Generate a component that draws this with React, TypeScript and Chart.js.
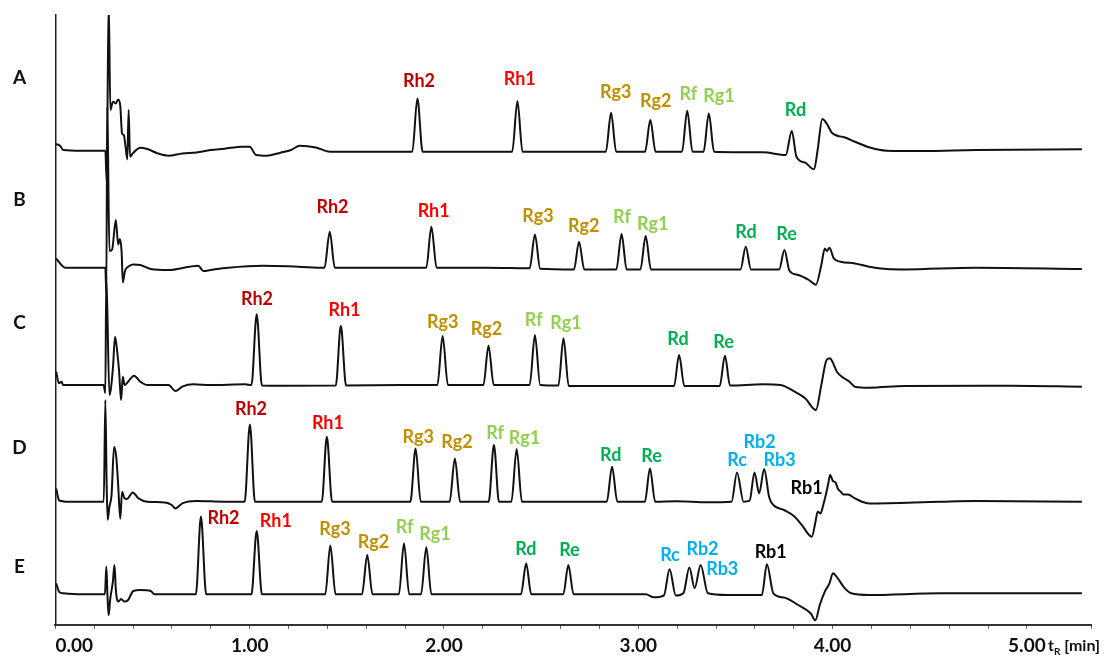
import { useEffect, useRef } from "react";
import { Chart, registerables } from "chart.js";

Chart.register(...registerables);

type Point = [number, number];
type PeakTag = [string, number];

// Retention-time axis (min)
const TIME_MIN = 0;
const TIME_MAX = 5.33;
const TIME_STEP = 0.2;
const timeTickLabels = ["0.00", "1.00", "2.00", "3.00", "4.00", "5.00"];

const sampleNames = ["A", "B", "C", "D", "E"];

// Chromatograms: [retention time (min), detector signal (relative units, baseline = 0)]
const traceA: Point[] = [
  [0.004, 6.7], [0.025, 4.7], [0.04, 0.7], [0.133, 0], [0.257, 0],
  [0.264, -30], [0.274, 150], [0.283, 40.7], [0.296, 49], [0.311, 47.3], [0.323, 51.3], [0.334, 44.7],
  [0.343, 17.3], [0.352, 15.7], [0.361, 4], [0.37, -8.7], [0.377, 40.7], [0.384, -6], [0.398, -2.7],
  [0.437, 3], [0.473, 1.7], [0.527, -2.7], [0.582, -5], [0.653, -2.7], [0.726, -1.7], [0.798, 0.7],
  [0.87, 2], [0.961, 4], [1.0, 4], [1.033, -4.3], [1.087, -5], [1.159, -2], [1.213, 0.7], [1.258, 5],
  [1.34, 3.3], [1.412, -1], [1.52, -1], [1.7, -1],
  [1.837, -1], [1.863, 52.3], [1.89, -1], [2.131, -1],
  [2.351, -1], [2.378, 49.7], [2.404, -1], [2.663, -1],
  [2.833, -1], [2.86, 38], [2.886, -1],
  [3.035, -1], [3.062, 30.7], [3.089, -1],
  [3.225, -1], [3.252, 40], [3.279, -1],
  [3.336, -1], [3.363, 37.3], [3.39, -1],
  [3.641, -1.6], [3.759, -4.3], [3.79, 19.7], [3.814, -6], [3.859, -12], [3.905, -18.6], [3.923, 0.7],
  [3.947, 31.7], [3.969, 27.4], [3.996, 18], [4.024, 15], [4.06, 13.4], [4.115, 9], [4.188, 3.4],
  [4.279, 0], [4.462, -0.3], [4.736, 0.7], [5.283, 1.4],
];

const traceB: Point[] = [
  [0.004, 9.3], [0.031, 2.7], [0.049, 0], [0.133, 0], [0.257, 0],
  [0.262, -25], [0.267, 161], [0.278, 16.7], [0.292, 18.3], [0.311, 47.7], [0.323, 23.3], [0.332, 28.7],
  [0.341, 15.3], [0.347, -14.7], [0.358, -3.3], [0.374, 1], [0.401, 3.3], [0.437, 2.7], [0.491, -1.3],
  [0.582, -2.3], [0.69, 1], [0.735, 2], [0.762, -3.3], [0.798, -2.3], [0.889, 0], [1.069, 2], [1.249, 1],
  [1.385, 0], [1.412, 36], [1.438, 0], [1.687, 0],
  [1.909, 0], [1.935, 41], [1.962, 0], [2.22, 0],
  [2.441, -0.5], [2.468, 33.3], [2.495, -1],
  [2.669, -1.7], [2.695, 26], [2.722, -1.7],
  [2.887, -1.7], [2.914, 33.7], [2.94, -1.7],
  [3.011, -1.7], [3.038, 31.7], [3.065, -1.7], [3.285, -1.7],
  [3.526, -1.7], [3.553, 21], [3.58, -1.7],
  [3.725, -1.7], [3.752, 17.7], [3.778, -3], [3.823, -7.3], [3.878, -12.3], [3.914, -17],
  [3.942, 2.7], [3.96, 19.3], [3.971, 16.7], [3.984, 20], [4.006, 9.3], [4.042, 6], [4.115, 4.3],
  [4.188, 1], [4.279, -1.3], [4.371, -1.7], [4.736, 0], [5.283, -1.3],
];

const traceC: Point[] = [
  [0.004, 13.3], [0.018, 1.7], [0.031, 3.3], [0.04, 0], [0.133, 0], [0.248, 0],
  [0.257, -8], [0.262, 110], [0.278, -10], [0.296, 16.7], [0.307, 48.3], [0.32, 30], [0.328, 13.3],
  [0.338, -15], [0.347, 8.3], [0.356, 0], [0.374, 3.3], [0.405, 9.3], [0.437, 3.3], [0.473, 0],
  [0.582, 0], [0.618, -6], [0.653, -1.7], [0.708, 0.7], [0.798, 0], [0.978, 0.7],
  [1.009, 0], [1.036, 70.7], [1.063, -0.5], [1.159, -0.7],
  [1.443, -0.5], [1.469, 59.3], [1.496, -0.5], [1.776, 0],
  [1.966, 0], [1.993, 49], [2.02, 0],
  [2.203, 0], [2.229, 39.3], [2.256, 0],
  [2.441, 0], [2.468, 50], [2.495, 0],
  [2.589, -0.5], [2.615, 46.7], [2.642, -1], [2.93, -1],
  [3.184, -1], [3.21, 30], [3.237, -1],
  [3.419, -1], [3.446, 29.3], [3.472, -0.5],
  [3.641, 0.7], [3.732, 0], [3.805, -6.7], [3.859, -13.3], [3.914, -25], [3.942, 0], [3.969, 25],
  [3.987, 26.7], [3.999, 23.3], [4.024, 12.7], [4.06, 6.7], [4.087, 3.3], [4.115, -1.7], [4.188, -2.7],
  [4.371, -1], [4.918, -0.7], [5.283, -1.7],
];

const traceD: Point[] = [
  [0.004, 13.3], [0.018, 1.7], [0.031, 0.7], [0.049, 0], [0.133, 0], [0.249, 0],
  [0.257, 101.7], [0.264, 15], [0.269, -18], [0.278, -5], [0.289, 6.7], [0.302, 55], [0.314, 43.3],
  [0.323, 16.7], [0.334, -17], [0.343, 10], [0.356, 3.3], [0.368, 2.7], [0.398, 9.3], [0.428, 3.3],
  [0.473, 0], [0.564, -0.7], [0.599, -3.3], [0.618, -6.7], [0.653, -1.7], [0.726, 0.7], [0.87, 0],
  [0.974, 0], [1.001, 77.3], [1.027, 0], [1.199, 0],
  [1.371, 0], [1.397, 65], [1.424, 0],
  [1.827, 0], [1.854, 53.3], [1.88, 0],
  [2.029, 0], [2.056, 43.3], [2.083, 0],
  [2.23, 0], [2.257, 56.7], [2.283, 0],
  [2.347, 0], [2.374, 52.7], [2.401, 0], [2.663, 0],
  [2.838, 0], [2.865, 35], [2.892, 0],
  [3.034, 0], [3.06, 33.3], [3.087, 0], [3.196, 0.5], [3.356, -0.5],
  [3.48, 0], [3.508, 29.3], [3.542, 0], [3.573, 1], [3.598, 29.3], [3.622, 8.3], [3.648, 32.7],
  [3.673, 5], [3.695, -3.3], [3.75, -8.3], [3.805, -15], [3.844, -24], [3.893, -35], [3.912, -20],
  [3.923, -10], [3.938, -11.7], [3.951, -4], [3.965, 6.7], [3.978, 18.3], [3.987, 26.7], [4.002, 20.7],
  [4.015, 19.3], [4.028, 12.7], [4.042, 10], [4.056, 7.3], [4.079, 7.3], [4.115, 3.3], [4.151, 0],
  [4.188, -1.7], [4.553, 0], [4.736, 0.7], [5.283, 0],
];

const traceE: Point[] = [
  [0.004, 10], [0.021, 1], [0.04, 0], [0.133, -1], [0.255, -1],
  [0.262, 26.7], [0.268, -2], [0.274, -22], [0.282, -6], [0.296, 12], [0.304, 28.3], [0.311, 4],
  [0.316, -5], [0.325, -8.3], [0.338, -5.7], [0.356, -8.3], [0.374, -6.7], [0.401, 2.3], [0.437, 3.3],
  [0.491, 2.3], [0.509, -1], [0.621, -1],
  [0.723, -1], [0.749, 76.7], [0.776, -1], [0.888, -1],
  [1.009, -1], [1.036, 62.3], [1.063, -1], [1.243, -1],
  [1.389, -1], [1.415, 47.7], [1.442, -1],
  [1.578, -1], [1.605, 38.3], [1.632, -1],
  [1.768, -1], [1.794, 50], [1.821, -1],
  [1.882, -1], [1.909, 46], [1.935, -1], [2.22, -1],
  [2.396, -1], [2.423, 29.7], [2.449, -1],
  [2.614, -1], [2.64, 28.3], [2.667, -1], [3.038, -1], [3.081, -4],
  [3.132, -2], [3.161, 24], [3.193, -2.3], [3.232, 0], [3.263, 25.7], [3.29, 5], [3.321, 28.3],
  [3.358, 0], [3.458, -1.7], [3.604, -1.7],
  [3.636, -1.7], [3.662, 29], [3.695, 0], [3.75, -4.3], [3.823, -11.7], [3.887, -20], [3.911, -27],
  [3.934, -11.7], [3.96, 1.7], [3.984, 10], [4.002, 20], [4.024, 15.7], [4.06, 5.7], [4.096, 0],
  [4.188, -1.7], [4.553, 0], [5.283, 0],
];

// Peak assignments: [compound, retention time (min)]
const peaksA: PeakTag[] = [
  ["Rh2", 1.863], ["Rh1", 2.378], ["Rg3", 2.86], ["Rg2", 3.062], ["Rf", 3.252], ["Rg1", 3.363], ["Rd", 3.79],
];
const peaksB: PeakTag[] = [
  ["Rh2", 1.412], ["Rh1", 1.935], ["Rg3", 2.468], ["Rg2", 2.695], ["Rf", 2.914], ["Rg1", 3.038], ["Rd", 3.553], ["Re", 3.752],
];
const peaksC: PeakTag[] = [
  ["Rh2", 1.036], ["Rh1", 1.469], ["Rg3", 1.993], ["Rg2", 2.229], ["Rf", 2.468], ["Rg1", 2.615], ["Rd", 3.21], ["Re", 3.446],
];
const peaksD: PeakTag[] = [
  ["Rh2", 1.001], ["Rh1", 1.397], ["Rg3", 1.854], ["Rg2", 2.056], ["Rf", 2.257], ["Rg1", 2.374],
  ["Rd", 2.865], ["Re", 3.06], ["Rc", 3.508], ["Rb2", 3.598], ["Rb3", 3.648], ["Rb1", 3.938],
];
const peaksE: PeakTag[] = [
  ["Rh2", 0.749], ["Rh1", 1.036], ["Rg3", 1.415], ["Rg2", 1.605], ["Rf", 1.794], ["Rg1", 1.909],
  ["Rd", 2.423], ["Re", 2.64], ["Rc", 3.161], ["Rb2", 3.263], ["Rb3", 3.321], ["Rb1", 3.662],
];

const compoundColors: Record<string, string> = {
  Rh2: "#C00000", Rh1: "#FF0000",
  Rg3: "#BF9000", Rg2: "#BF9000",
  Rf: "#92D050", Rg1: "#92D050",
  Rd: "#00B050", Re: "#00B050",
  Rc: "#00B0F0", Rb2: "#00B0F0", Rb3: "#00B0F0",
  Rb1: "#000000",
};

// ---- layout ----
// vertical stacking of the chromatograms on the shared signal axis
const STACK_OFFSETS = [474, 357, 239.7, 123, 31.4];
const SIGNAL_MAX = 609.7;
// levels of the sample letters on the signal axis
const LETTER_LEVELS = [546.4, 424.7, 301.7, 176.7, 57.7];
// label placement relative to the peak apex in px: [dx, rise]
const shiftsA: Point[] = [[1.6, 17.3], [2.3, 22], [4.6, 20.2], [5.3, 19], [1.1, 17], [10.1, 17.5], [3.7, 20.7]];
const shiftsB: Point[] = [[2.7, 24.2], [2.3, 15.4], [3, 18], [4.6, 15.9], [0.4, 16.5], [7.1, 12], [0.3, 14.7], [2.1, 16.2]];
const shiftsC: Point[] = [[0.3, 15.3], [3.7, 15.7], [0.2, 13.5], [-1.9, 16.5], [-1.2, 15], [2.5, 15], [-1.1, 16.3], [-1.4, 13.7]];
const shiftsD: Point[] = [
  [1.1, 15.1], [1.1, 13.4], [2.7, 10.8], [2.1, 16.6], [1.1, 11.7], [7.7, 10.7],
  [-1.3, 11.7], [1.6, 12.6], [0, 12.3], [5.2, 29.8], [15.4, 9], [-13.9, 25.1],
];
const shiftsE: Point[] = [
  [22.6, -1.6], [19.2, 9.7], [4.7, 16.5], [6.3, 13.2], [0.7, 15.8], [8.7, 13.1],
  [-0.3, 14], [1.1, 15.3], [0.4, 14.6], [13.1, 18.5], [21.6, -4.2], [3.8, 12],
];

const FONT = "Lato, 'Open Sans', sans-serif";
const TICK_LEN = 4;
const TICK_PAD = 6;
const TICK_FONT = 19;

export default function App() {
  const canvasRef = useRef<HTMLCanvasElement>(null);

  useEffect(() => {
    const canvas = canvasRef.current;
    if (!canvas) return;
    const traces = [traceA, traceB, traceC, traceD, traceE];
    const peaks = [peaksA, peaksB, peaksC, peaksD, peaksE];
    const shifts = [shiftsA, shiftsB, shiftsC, shiftsD, shiftsE];

    const datasets = traces.map((trace, i) => ({
      label: sampleNames[i],
      data: trace.map(([t, s]) => ({ x: t, y: s + STACK_OFFSETS[i] })),
      borderColor: "#111111",
      borderWidth: 2,
      pointRadius: 0,
      fill: false,
      cubicInterpolationMode: "monotone",
    }));

    const annotations = {
      id: "chromAnnotations",
      afterDatasetsDraw(chart: any) {
        const ctx = chart.ctx as CanvasRenderingContext2D;
        const xs = chart.scales.x;
        const ys = chart.scales.y;
        ctx.save();
        ctx.textAlign = "center";
        ctx.textBaseline = "middle";

        // compound names over their peaks
        ctx.font = `bold 18px ${FONT}`;
        peaks.forEach((list, i) => {
          const trace = traces[i];
          list.forEach(([name, t], j) => {
            let apex = trace[0];
            for (const p of trace) if (Math.abs(p[0] - t) < Math.abs(apex[0] - t)) apex = p;
            const px = xs.getPixelForValue(apex[0]);
            const py = ys.getPixelForValue(apex[1] + STACK_OFFSETS[i]);
            const [dx, rise] = shifts[i][j];
            ctx.fillStyle = compoundColors[name];
            ctx.fillText(name, px + dx, py - rise);
          });
        });

        // sample letters
        ctx.font = `bold 19px ${FONT}`;
        ctx.fillStyle = "#111";
        sampleNames.forEach((n, i) => ctx.fillText(n, 19.5, ys.getPixelForValue(LETTER_LEVELS[i])));

        // axis title t_R [min], right end of the time axis
        const cy = xs.top + TICK_LEN + TICK_PAD + (TICK_FONT * 1.2) / 2;
        const big = `bold 16px ${FONT}`;
        const small = `bold 10px ${FONT}`;
        ctx.textAlign = "left";
        ctx.font = big;
        const wT = ctx.measureText("t").width;
        const wM = ctx.measureText(" [min]").width;
        ctx.font = small;
        const wR = ctx.measureText("R").width;
        let x = 1100 - (wT + wR + wM);
        ctx.font = big;
        ctx.fillText("t", x, cy);
        x += wT;
        ctx.font = small;
        ctx.fillText("R", x, cy + 6);
        x += wR;
        ctx.font = big;
        ctx.fillText(" [min]", x, cy);
        ctx.restore();
      },
    };

    const chart = new Chart(canvas, {
      type: "line",
      data: { datasets } as any,
      options: {
        animation: false,
        responsive: false,
        events: [],
        layout: { padding: { left: 55.4, top: 15, right: 15, bottom: 0 } },
        plugins: { legend: { display: false }, tooltip: { enabled: false } },
        scales: {
          x: {
            type: "linear",
            min: TIME_MIN,
            max: TIME_MAX,
            border: { display: true, color: "#333", width: 2 },
            grid: { display: true, drawOnChartArea: false, drawTicks: true, tickLength: TICK_LEN, tickColor: "#555", tickWidth: 1 },
            ticks: {
              stepSize: TIME_STEP,
              autoSkip: false,
              maxRotation: 0,
              minRotation: 0,
              align: "inner",
              padding: TICK_PAD,
              color: "#111",
              font: { family: FONT, weight: "bold", size: TICK_FONT },
              callback: (v: any) => {
                const n = Math.round(Number(v));
                return Math.abs(Number(v) - n) < 1e-6 && n < timeTickLabels.length ? timeTickLabels[n] : "";
              },
            },
            afterFit: (s: any) => { s.height = 32.3; },
          },
          y: {
            type: "linear",
            min: 0,
            max: SIGNAL_MAX,
            border: { display: true, color: "#222", width: 1.5 },
            grid: { display: false },
            ticks: { display: false },
            afterFit: (s: any) => { s.width = 0; },
          },
        },
      } as any,
      plugins: [annotations],
    });
    return () => chart.destroy();
  }, []);

  return (
    <div style={{ position: "fixed", left: 0, top: 0, width: 1106, height: 657, background: "#fff" }}>
      <canvas ref={canvasRef} width={1106} height={657} style={{ display: "block" }} />
    </div>
  );
}
